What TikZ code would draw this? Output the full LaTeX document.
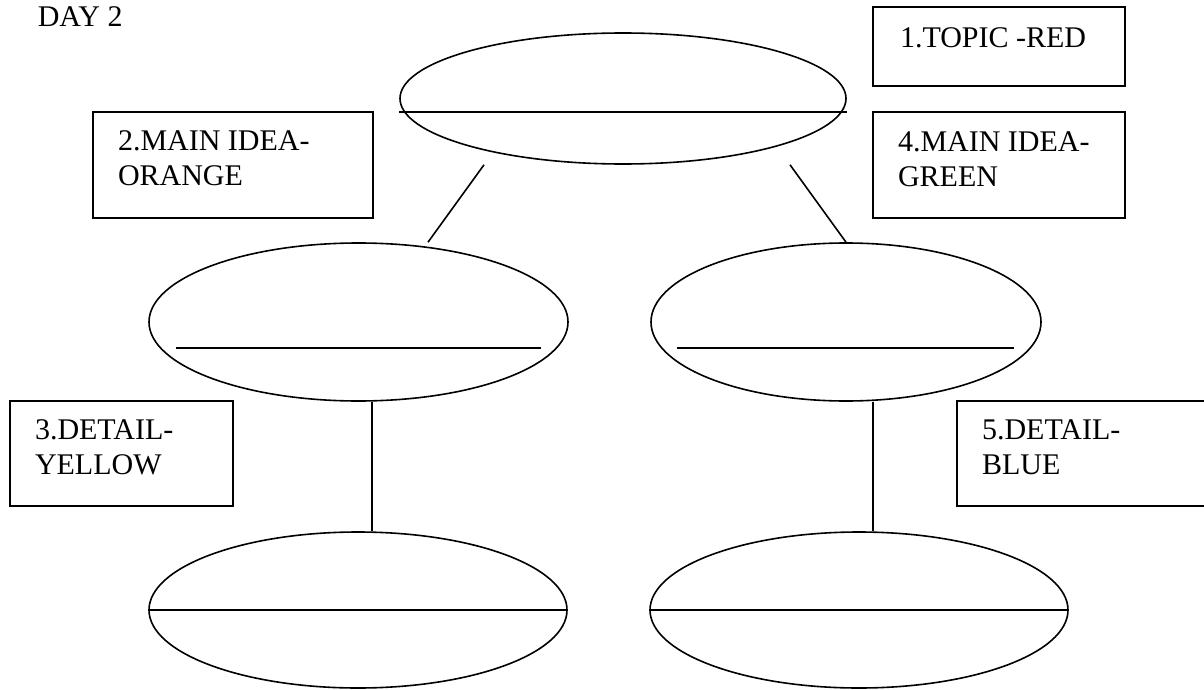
\documentclass[tikz,border=0pt]{standalone}
\usepackage{fontspec}
\setmainfont{Liberation Serif}
\usetikzlibrary{shapes.geometric, positioning}

\begin{document}
\begin{tikzpicture}[x=1pt, y=-1pt, line width=1.6pt,
  oval/.style={draw, ellipse, inner sep=0pt},
  colbox/.style={draw, rectangle, inner sep=0pt},
  boxtext/.style={inner sep=0pt, align=left, font=\fontsize{30}{35}\selectfont}]
\useasboundingbox (0,0) rectangle (1204,690);
% Titulo
\node[boxtext, anchor=north west] (day) at (37,6) {DAY 2};
% Ovalos
\node[oval, minimum width=446pt, minimum height=131pt] (topic) at (623,98.5) {};
\node[oval, minimum width=419pt, minimum height=158pt] (ideaL) at (358.5,322) {};
\node[oval, minimum width=390pt, minimum height=158pt] (ideaR) at (846,322) {};
\node[oval, minimum width=418pt, minimum height=156pt] (detailL) at (358,610) {};
\node[oval, minimum width=418pt, minimum height=156pt] (detailR) at (859,610) {};
% Renglones
\draw ([yshift=-13.5pt]topic.west) -- ([yshift=-13.5pt]topic.east);
\draw ([shift={(28pt,-26pt)}]ideaL.west) -- ([shift={(-28pt,-26pt)}]ideaL.east);
\draw ([shift={(27pt,-26pt)}]ideaR.west) -- ([shift={(-28pt,-26pt)}]ideaR.east);
\draw (detailL.west) -- (detailL.east);
\draw (detailR.west) -- (detailR.east);
% Conexiones
\draw ([xshift=-139pt]topic.south) -- ([xshift=69.5pt]ideaL.north);
\draw ([xshift=167pt]topic.south) -- (ideaR.north);
\draw ([xshift=13.5pt]ideaL.south) -- ([xshift=14pt]detailL.north);
\draw ([xshift=27pt]ideaR.south) -- ([xshift=14pt]detailR.north);
% Cuadros de color
\node[colbox, minimum width=252pt, minimum height=79pt] (red) at (999,46.5) {};
\node[colbox, minimum width=280pt, minimum height=106pt] (orange) at (233,165) {};
\node[colbox, minimum width=252pt, minimum height=106pt] (green) at (999,165) {};
\node[colbox, minimum width=223pt, minimum height=105pt] (yellow) at (121.5,453.5) {};
\node[colbox, minimum width=258pt, minimum height=105pt] (blue) at (1086,453.5) {};
\node[boxtext, below right=21pt and 27pt of red.north west] (redtext) {1.TOPIC -RED};
\node[boxtext, below right=19pt and 25pt of orange.north west] (orangetext) {2.MAIN IDEA-\\ORANGE};
\node[boxtext, below right=20pt and 25pt of green.north west] (greentext) {4.MAIN IDEA-\\GREEN};
\node[boxtext, below right=19pt and 25pt of yellow.north west] (yellowtext) {3.DETAIL-\\YELLOW};
\node[boxtext, below right=19pt and 25pt of blue.north west] (bluetext) {5.DETAIL-\\BLUE};
\end{tikzpicture}
\end{document}
